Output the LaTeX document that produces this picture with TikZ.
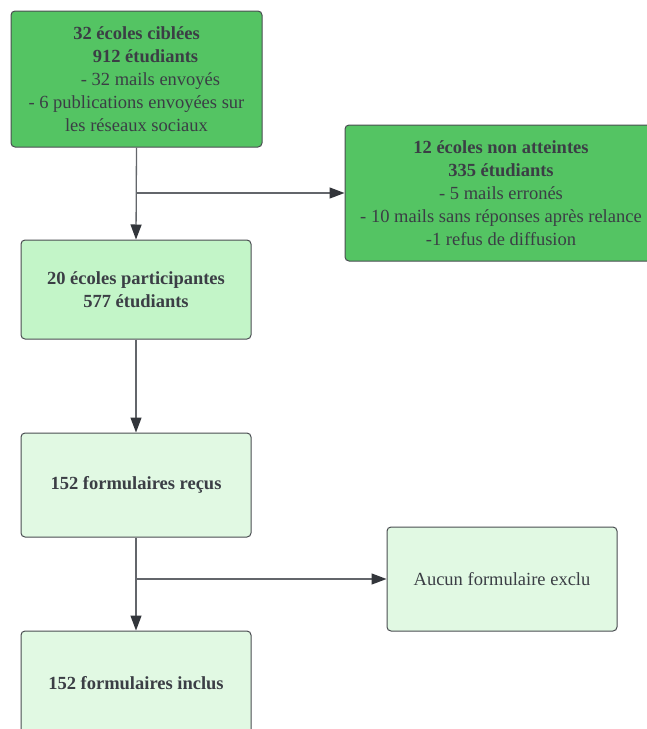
\documentclass[tikz,border=0pt]{standalone}
\usepackage{fontspec}
\setmainfont{Liberation Serif}
\usetikzlibrary{arrows.meta}
\definecolor{vertfonce}{HTML}{54C463}
\definecolor{vertmoyen}{HTML}{C3F5C8}
\definecolor{vertclair}{HTML}{E1F9E3}
\definecolor{bord}{HTML}{4A4D52}
\definecolor{trait}{HTML}{63666B}
\definecolor{pointe}{HTML}{33363B}
\definecolor{texte}{HTML}{3B3E45}
\begin{document}
\begin{tikzpicture}[x=1pt,y=1pt,
  boite/.style={draw=bord,line width=1pt,rounded corners=4pt,align=center,
    text=texte,inner sep=0pt,font=\fontsize{18.5}{23}\selectfont},
  fleche/.style={draw=trait,line width=1.3pt,-{Triangle[length=15pt,width=11pt,color=pointe]}}]
\fill[white] (0,0) rectangle (647,-729);
\useasboundingbox (0,0) rectangle (647,-729);
% etapes principales
\node[boite,fill=vertfonce,minimum width=251,minimum height=136] (ciblees) at (136.5,-79)
  {\textbf{32 écoles ciblées}\\\hspace*{18pt}\textbf{912 étudiants}\\\hspace*{28pt}- 32 mails envoyés\\- 6 publications envoyées sur\\les réseaux sociaux};
\node[boite,fill=vertfonce,minimum width=312,minimum height=136] (nonatteintes) at (501,-193)
  {\textbf{12 écoles non atteintes}\\\textbf{335 étudiants}\\- 5 mails erronés\\- 10 mails sans réponses après relance\\-1 refus de diffusion};
\node[boite,fill=vertmoyen,minimum width=230,minimum height=99] (participantes) at (136,-289.5)
  {\textbf{20 écoles participantes}\\\textbf{577 étudiants}};
\node[boite,fill=vertclair,minimum width=230,minimum height=104] (recus) at (136,-485)
  {\textbf{152 formulaires reçus}};
\node[boite,fill=vertclair,minimum width=230,minimum height=104] (exclu) at (502,-579)
  {Aucun formulaire exclu};
\node[boite,fill=vertclair,minimum width=230,minimum height=104] (inclus) at (136,-683)
  {\textbf{152 formulaires inclus}};
% connecteurs
\coordinate (bif1) at (ciblees.south |- nonatteintes.west);
\coordinate (bif2) at (recus.south |- exclu.west);
\draw[fleche] (ciblees.south) -- (participantes.north);
\draw[fleche] (bif1) -- (nonatteintes.west);
\draw[fleche] (participantes.south) -- (recus.north);
\draw[fleche] (recus.south) -- (inclus.north);
\draw[fleche] (bif2) -- (exclu.west);
\end{tikzpicture}
\end{document}
